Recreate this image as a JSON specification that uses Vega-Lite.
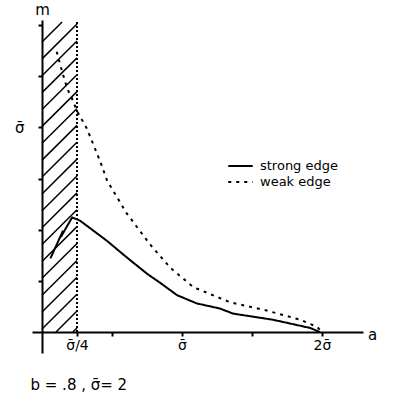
{
  "$schema": "https://vega.github.io/schema/vega-lite/v6.json",
  "autosize": "none",
  "width": 331,
  "height": 333,
  "padding": {"left": 32, "top": 20, "right": 31, "bottom": 60},
  "background": "white",
  "config": {"view": {"stroke": null}, "font": "DejaVu Sans"},
  "title": {"text": "b = .8 , σ̄= 2", "orient": "bottom", "anchor": "start", "fontSize": 15, "fontWeight": "normal", "font": "DejaVu Sans", "offset": 25, "dx": 16},
  "datasets": {
    "curves": [
      {"edge": "weak edge", "o": 1, "a": 0.21, "m": 2.74},
      {"edge": "weak edge", "o": 2, "a": 0.29, "m": 2.54},
      {"edge": "weak edge", "o": 3, "a": 0.36, "m": 2.38},
      {"edge": "weak edge", "o": 4, "a": 0.43, "m": 2.28},
      {"edge": "weak edge", "o": 5, "a": 0.5, "m": 2.16},
      {"edge": "weak edge", "o": 6, "a": 0.64, "m": 1.99},
      {"edge": "weak edge", "o": 7, "a": 0.83, "m": 1.67},
      {"edge": "weak edge", "o": 8, "a": 0.93, "m": 1.48},
      {"edge": "weak edge", "o": 9, "a": 1.21, "m": 1.16},
      {"edge": "weak edge", "o": 10, "a": 1.54, "m": 0.86},
      {"edge": "weak edge", "o": 11, "a": 1.83, "m": 0.63},
      {"edge": "weak edge", "o": 12, "a": 2.16, "m": 0.44},
      {"edge": "weak edge", "o": 13, "a": 2.44, "m": 0.36},
      {"edge": "weak edge", "o": 14, "a": 2.69, "m": 0.29},
      {"edge": "weak edge", "o": 15, "a": 3.21, "m": 0.21},
      {"edge": "weak edge", "o": 16, "a": 3.69, "m": 0.12},
      {"edge": "weak edge", "o": 17, "a": 3.93, "m": 0.05},
      {"edge": "weak edge", "o": 18, "a": 4.0, "m": 0.0},
      {"edge": "strong edge", "o": 1, "a": 0.12, "m": 0.72},
      {"edge": "strong edge", "o": 2, "a": 0.3, "m": 0.99},
      {"edge": "strong edge", "o": 3, "a": 0.27, "m": 0.93},
      {"edge": "strong edge", "o": 4, "a": 0.43, "m": 1.12},
      {"edge": "strong edge", "o": 5, "a": 0.54, "m": 1.09},
      {"edge": "strong edge", "o": 6, "a": 0.93, "m": 0.89},
      {"edge": "strong edge", "o": 7, "a": 1.21, "m": 0.73},
      {"edge": "strong edge", "o": 8, "a": 1.5, "m": 0.57},
      {"edge": "strong edge", "o": 9, "a": 1.69, "m": 0.48},
      {"edge": "strong edge", "o": 10, "a": 1.93, "m": 0.36},
      {"edge": "strong edge", "o": 11, "a": 2.21, "m": 0.28},
      {"edge": "strong edge", "o": 12, "a": 2.54, "m": 0.23},
      {"edge": "strong edge", "o": 13, "a": 2.73, "m": 0.18},
      {"edge": "strong edge", "o": 14, "a": 3.3, "m": 0.12},
      {"edge": "strong edge", "o": 15, "a": 3.83, "m": 0.04},
      {"edge": "strong edge", "o": 16, "a": 3.97, "m": 0.0}
    ],
    "hatch": [
      {"a": 0.44, "m": 0.0, "a2": 0.5, "m2": 0.04},
      {"a": 0.2, "m": 0.0, "a2": 0.5, "m2": 0.205},
      {"a": 0.0, "m": 0.03, "a2": 0.5, "m2": 0.37},
      {"a": 0.0, "m": 0.195, "a2": 0.5, "m2": 0.535},
      {"a": 0.0, "m": 0.36, "a2": 0.5, "m2": 0.7},
      {"a": 0.0, "m": 0.525, "a2": 0.5, "m2": 0.865},
      {"a": 0.0, "m": 0.69, "a2": 0.5, "m2": 1.03},
      {"a": 0.0, "m": 0.855, "a2": 0.5, "m2": 1.195},
      {"a": 0.0, "m": 1.02, "a2": 0.5, "m2": 1.36},
      {"a": 0.0, "m": 1.185, "a2": 0.5, "m2": 1.525},
      {"a": 0.0, "m": 1.35, "a2": 0.5, "m2": 1.69},
      {"a": 0.0, "m": 1.515, "a2": 0.5, "m2": 1.855},
      {"a": 0.0, "m": 1.68, "a2": 0.5, "m2": 2.02},
      {"a": 0.0, "m": 1.845, "a2": 0.5, "m2": 2.185},
      {"a": 0.0, "m": 2.01, "a2": 0.5, "m2": 2.35},
      {"a": 0.0, "m": 2.175, "a2": 0.5, "m2": 2.515},
      {"a": 0.0, "m": 2.34, "a2": 0.5, "m2": 2.68},
      {"a": 0.0, "m": 2.505, "a2": 0.5, "m2": 2.845},
      {"a": 0.0, "m": 2.67, "a2": 0.5, "m2": 3.01},
      {"a": 0.0, "m": 2.835, "a2": 0.287, "m2": 3.03}
    ],
    "bound": [
      {"a": 0.5, "m": 0.0, "m2": 3.03}
    ]
  },
  "layer": [
    {
      "data": {"name": "hatch"},
      "mark": {"type": "rule", "stroke": "black", "strokeWidth": 1.5},
      "encoding": {
        "x": {"field": "a", "type": "quantitative", "scale": {"domain": [-0.143, 4.586], "nice": false, "zero": false},
          "axis": {"orient": "bottom", "offset": -21, "values": [0.5, 1, 2, 3, 4], "labelExpr": "datum.value == 0.5 ? 'σ̄/4' : datum.value == 2 ? 'σ̄' : datum.value == 4 ? '2σ̄' : ''", "domainColor": "black", "domainWidth": 2, "tickColor": "black", "tickWidth": 2, "tickSize": 4, "labelColor": "black", "labelFontSize": 14, "labelFont": "DejaVu Sans", "labelPadding": 2, "grid": false, "title": "a", "titleFontSize": 15, "titleFontWeight": "normal", "titleColor": "black", "titleX": 340, "titleY": 2, "titleBaseline": "middle", "titleAlign": "center", "labelFlush": false, "labelOverlap": false}},
        "y": {"field": "m", "type": "quantitative", "scale": {"domain": [-0.205, 3.05], "nice": false, "zero": false},
          "axis": {"orient": "left", "offset": -10, "values": [0.5, 1, 1.5, 2, 2.5, 3], "labelExpr": "datum.value == 2 ? 'σ̄' : ''", "domainColor": "black", "domainWidth": 2, "tickColor": "black", "tickWidth": 2, "tickSize": 4, "labelColor": "black", "labelFontSize": 15, "labelFont": "DejaVu Sans", "labelPadding": 14, "grid": false, "title": "m", "titleAngle": 0, "titleFontSize": 15, "titleFontWeight": "normal", "titleColor": "black", "titleX": 0, "titleY": -11, "titleAlign": "center", "titleBaseline": "middle", "labelOverlap": false}},
        "x2": {"field": "a2"},
        "y2": {"field": "m2"}
      }
    },
    {
      "data": {"name": "bound"},
      "mark": {"type": "rule", "stroke": "black", "strokeWidth": 2, "strokeDash": [2, 2]},
      "encoding": {
        "x": {"field": "a", "type": "quantitative"},
        "y": {"field": "m", "type": "quantitative"},
        "y2": {"field": "m2"}
      }
    },
    {
      "data": {"name": "curves"},
      "mark": {"type": "line", "stroke": "black", "strokeWidth": 2},
      "encoding": {
        "x": {"field": "a", "type": "quantitative"},
        "y": {"field": "m", "type": "quantitative"},
        "order": {"field": "o", "type": "quantitative"},
        "strokeDash": {"field": "edge", "type": "nominal", "scale": {"domain": ["strong edge", "weak edge"], "range": [[1, 0], [3, 5]]},
          "legend": {"title": null, "orient": "none", "legendX": 195, "legendY": 138, "symbolType": "stroke", "symbolStrokeColor": "black", "symbolStrokeWidth": 2, "symbolSize": 600, "clipHeight": 16, "labelFontSize": 13, "labelFont": "DejaVu Sans", "labelColor": "black", "rowPadding": 0, "labelOffset": 6}}
      }
    }
  ]
}
